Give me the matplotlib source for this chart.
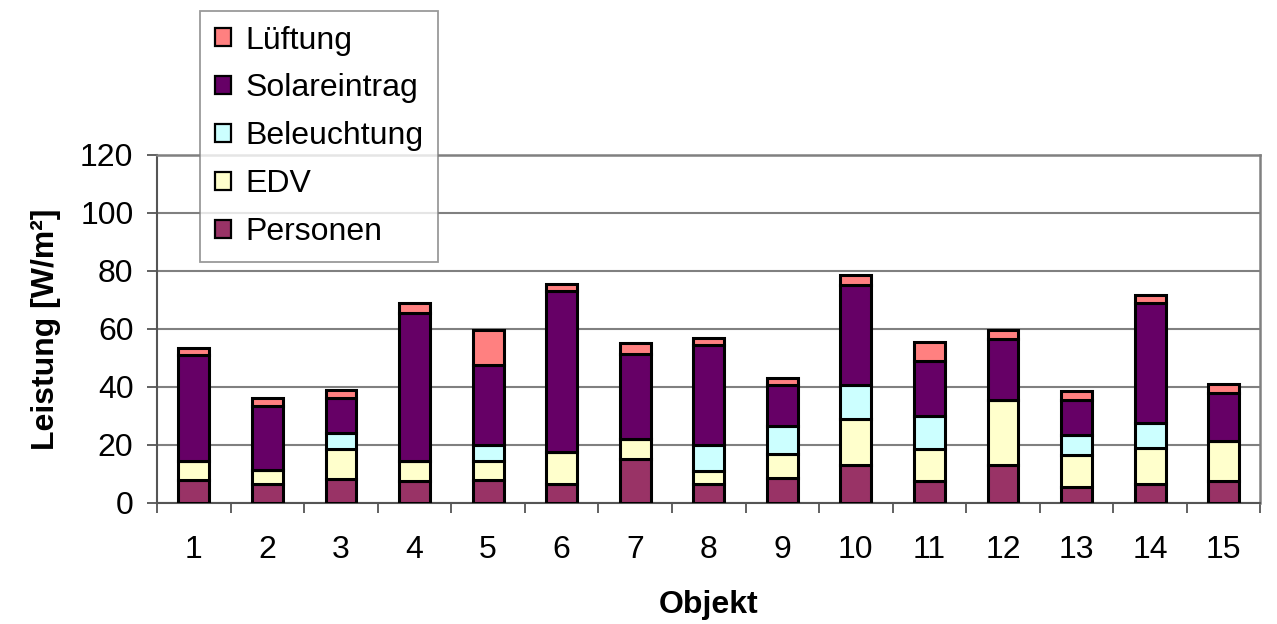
import matplotlib
matplotlib.use("Agg")
import matplotlib.pyplot as plt
import numpy as np

objekte = [str(i) for i in range(1, 16)]
personen = [8, 6.5, 8.4, 7.5, 8, 6.5, 15, 6.5, 8.5, 13, 7.5, 13, 5.5, 6.5, 7.5]
edv = [6.5, 5, 10.2, 7, 6.5, 11, 7, 4.5, 8.5, 16, 11, 22.5, 11, 12.5, 14]
beleuchtung = [0, 0, 5.4, 0, 5.5, 0, 0, 9, 9.5, 11.5, 11.5, 0, 7, 8.5, 0]
solareintrag = [36.5, 22, 12, 51, 27.5, 55.5, 29.5, 34.5, 14, 34.5, 19, 21, 12, 41.5, 16.5]
lueftung = [2.5, 2.8, 2.8, 3.5, 12, 2.5, 3.5, 2.5, 2.5, 3.5, 6.5, 3, 3, 2.5, 3]

serien = [
    ("Personen", personen, "#993366"),
    ("EDV", edv, "#FFFFCC"),
    ("Beleuchtung", beleuchtung, "#CCFFFF"),
    ("Solareintrag", solareintrag, "#660066"),
    ("Lüftung", lueftung, "#FF8080"),
]

plt.rcParams["font.family"] = ["Liberation Sans", "DejaVu Sans"]

fig = plt.figure(figsize=(12.77, 6.24), dpi=100)
ax = fig.add_axes([0.123, 0.194, 0.864, 0.558])

x = np.arange(1, len(objekte) + 1)
bottom = np.zeros(len(objekte))
handles = []
for name, vals, color in serien:
    vals = np.array(vals, dtype=float)
    b = ax.bar(x, vals, width=0.42, bottom=bottom, color=color,
               edgecolor="black", linewidth=2.2, label=name, zorder=3)
    handles.append(b)
    bottom += vals

ax.set_xlim(0.5, len(objekte) + 0.5)
ax.set_ylim(0, 120)
ax.set_yticks(np.arange(0, 121, 20))
ax.yaxis.grid(True, color="#808080", linewidth=1.5, zorder=0)
ax.set_axisbelow(True)

ax.set_xticks(x)
ax.set_xticklabels(objekte)
ax.set_xticks(np.arange(0.5, len(objekte) + 1, 1), minor=True)
ax.tick_params(axis="x", which="major", length=0, pad=23, labelsize=23)
ax.tick_params(axis="x", which="minor", length=7, width=1.3, color="#555555",
               direction="out")
ax.tick_params(axis="y", length=7, width=1.3, color="#555555", pad=10,
               labelsize=23)

for side in ("left", "bottom"):
    ax.spines[side].set_color("#555555")
    ax.spines[side].set_linewidth(1.5)
for side in ("top", "right"):
    ax.spines[side].set_color("#808080")
    ax.spines[side].set_linewidth(1.8)

ax.set_xlabel("Objekt", fontsize=23, fontweight="bold", labelpad=18)
ax.set_ylabel("Leistung [W/m²]", fontsize=23, fontweight="bold", labelpad=14)

leg = fig.legend(handles[::-1], [s[0] for s in serien][::-1],
                 loc="upper left", bbox_to_anchor=(0.157, 0.982),
                 fontsize=23, frameon=True, fancybox=False,
                 handlelength=0.5, handleheight=0.5, handletextpad=0.45,
                 labelspacing=0.56, borderpad=0.45, borderaxespad=0)
leg.get_frame().set_edgecolor("#808080")
leg.get_frame().set_linewidth(1.3)
for h in leg.legend_handles:
    h.set_linewidth(1.6)

fig.savefig("out.png", dpi=100)
